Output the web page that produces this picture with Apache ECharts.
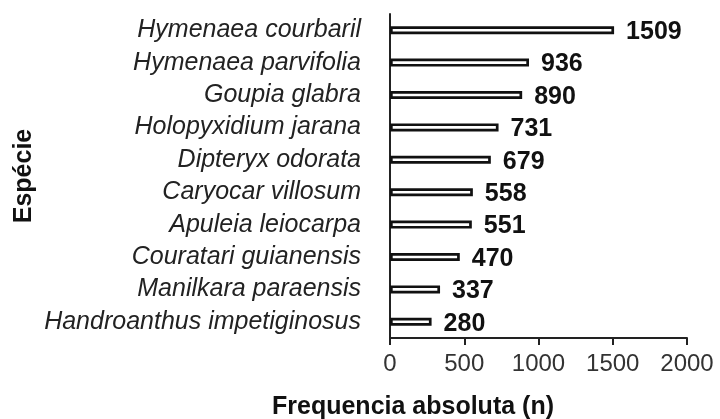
<!DOCTYPE html>
<html><head><meta charset="utf-8">
<script src="https://cdn.jsdelivr.net/npm/echarts@6/dist/echarts.min.js"></script>
<style>html,body{margin:0;padding:0;background:#fff}#c{width:720px;height:419px}</style>
</head><body><div id="c"></div>
<script>
var species = ["Handroanthus impetiginosus","Manilkara paraensis","Couratari guianensis","Apuleia leiocarpa","Caryocar villosum","Dipteryx odorata","Holopyxidium jarana","Goupia glabra","Hymenaea parvifolia","Hymenaea courbaril"];
var freq = [280,337,470,551,558,679,731,890,936,1509];
var xTicks = [0,500,1000,1500,2000];
var chart = echarts.init(document.getElementById('c'));
chart.setOption({
  animation:false,
  grid:{left:390,right:33,top:14,bottom:81,containLabel:false},
  xAxis:{type:'value',min:xTicks[0],max:xTicks[xTicks.length-1],interval:500,
    axisLine:{show:true,lineStyle:{color:'#222',width:2}},
    axisTick:{show:true,length:7,lineStyle:{color:'#222',width:2}},
    splitLine:{show:false},
    axisLabel:{fontFamily:'Liberation Sans',fontSize:24,color:'#333',margin:14,formatter:function(v){return String(v);}}},
  yAxis:{type:'category',data:species,
    name:'Espécie',nameLocation:'middle',nameGap:353,
    nameTextStyle:{fontFamily:'Liberation Sans',fontWeight:'bold',fontSize:25,color:'#111'},
    axisLine:{show:true,lineStyle:{color:'#222',width:2}},
    axisTick:{show:false},
    axisLabel:{interval:0,fontFamily:'Liberation Sans',fontStyle:'italic',fontSize:25,color:'#222',margin:29}},
  series:[{type:'bar',data:freq,barWidth:8,
    itemStyle:{color:'#fff',borderColor:'#111',borderWidth:2.7},
    label:{show:true,position:'right',distance:12,fontFamily:'Liberation Sans',fontWeight:'bold',fontSize:25,color:'#111',offset:[0,2]}}],
  graphic:[
    {type:'text',x:413,y:407,style:{text:'Frequencia absoluta (n)',font:'bold 25px "Liberation Sans"',fill:'#111',textAlign:'center',textVerticalAlign:'middle'}}
  ]
});
</script></body></html>
